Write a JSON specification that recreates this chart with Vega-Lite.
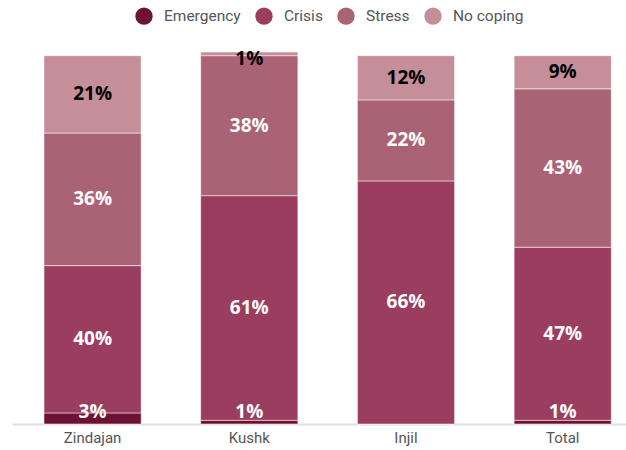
{
  "$schema": "https://vega.github.io/schema/vega-lite/v6.json",
  "width": 614,
  "height": 372,
  "autosize": {"type": "none"},
  "padding": {"left": 12, "top": 52, "right": 0, "bottom": 26},
  "background": "white",
  "config": {"view": {"stroke": null}},
  "data": {"values": [
    {"site": "Zindajan", "category": "Emergency", "rank": 1, "value": 3},
    {"site": "Zindajan", "category": "Crisis", "rank": 2, "value": 40},
    {"site": "Zindajan", "category": "Stress", "rank": 3, "value": 36},
    {"site": "Zindajan", "category": "No coping", "rank": 4, "value": 21},
    {"site": "Kushk", "category": "Emergency", "rank": 1, "value": 1},
    {"site": "Kushk", "category": "Crisis", "rank": 2, "value": 61},
    {"site": "Kushk", "category": "Stress", "rank": 3, "value": 38},
    {"site": "Kushk", "category": "No coping", "rank": 4, "value": 1},
    {"site": "Injil", "category": "Emergency", "rank": 1, "value": 0},
    {"site": "Injil", "category": "Crisis", "rank": 2, "value": 66},
    {"site": "Injil", "category": "Stress", "rank": 3, "value": 22},
    {"site": "Injil", "category": "No coping", "rank": 4, "value": 12},
    {"site": "Total", "category": "Emergency", "rank": 1, "value": 1},
    {"site": "Total", "category": "Crisis", "rank": 2, "value": 47},
    {"site": "Total", "category": "Stress", "rank": 3, "value": 43},
    {"site": "Total", "category": "No coping", "rank": 4, "value": 9}
  ]},
  "encoding": {
    "x": {
      "field": "site", "type": "nominal",
      "sort": ["Zindajan", "Kushk", "Injil", "Total"],
      "scale": {"paddingInner": 0.38, "paddingOuter": 0.149, "align": 0.685},
      "axis": {
        "title": null, "labelAngle": 0, "ticks": false,
        "domainColor": "#e0e0e0", "domainWidth": 2,
        "labelFont": "Roboto", "labelFontSize": 15, "labelColor": "#555555",
        "labelPadding": 6
      }
    }
  },
  "layer": [
    {
      "mark": {"type": "bar", "stroke": "#ffffff", "strokeOpacity": 0.5, "strokeWidth": 1},
      "encoding": {
        "y": {"field": "value", "type": "quantitative", "stack": "zero", "scale": {"domain": [0, 101], "nice": false}, "axis": null},
        "color": {
          "field": "category", "type": "nominal",
          "scale": {"domain": ["Emergency", "Crisis", "Stress", "No coping"], "range": ["#6e1235", "#9b3d5f", "#aa6375", "#c68e98"]},
          "legend": {
            "title": null, "orient": "none", "direction": "horizontal",
            "legendX": 123, "legendY": -45, "padding": 0,
            "symbolType": "circle", "symbolSize": 300, "symbolStrokeWidth": 0,
            "labelFont": "Roboto", "labelFontSize": 15.5, "labelColor": "#555555",
            "labelOffset": 11, "columnPadding": 14
          }
        },
        "order": {"field": "rank", "type": "quantitative"}
      }
    },
    {
      "transform": [
        {"stack": "value", "groupby": ["site"], "sort": [{"field": "rank", "order": "ascending"}], "as": ["y0", "y1"]},
        {"filter": "datum.category != 'Emergency'"},
        {"calculate": "min((datum.y0 + datum.y1) / 2, 99)", "as": "mid"},
        {"calculate": "datum.value + '%'", "as": "label"}
      ],
      "mark": {"type": "text", "font": "Open Sans", "fontWeight": "bold", "fontSize": 19, "baseline": "middle"},
      "encoding": {
        "y": {"field": "mid", "type": "quantitative"},
        "text": {"field": "label"},
        "color": {"condition": {"test": "datum.category == 'No coping'", "value": "#000000"}, "value": "#ffffff"}
      }
    },
    {
      "transform": [
        {"filter": "datum.category == 'Emergency' && datum.value > 0"},
        {"calculate": "datum.value + '%'", "as": "label"}
      ],
      "mark": {"type": "text", "font": "Open Sans", "fontWeight": "bold", "fontSize": 19, "baseline": "alphabetic", "dy": -6, "color": "#ffffff"},
      "encoding": {
        "y": {"datum": 0, "type": "quantitative"},
        "text": {"field": "label"}
      }
    }
  ]
}
